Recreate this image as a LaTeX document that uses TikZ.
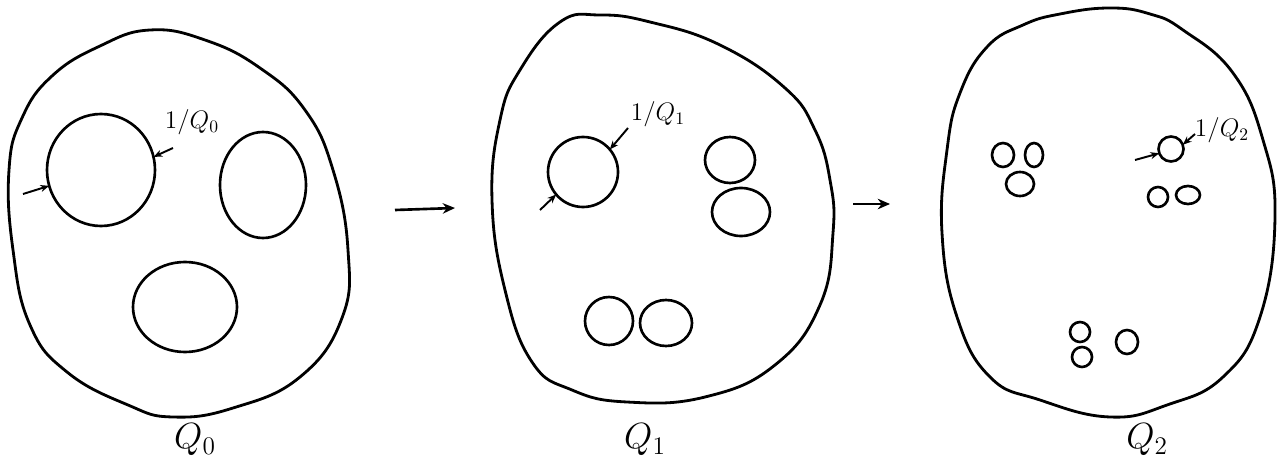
\documentclass[tikz,border=0pt]{standalone}
\usepackage{tikz}
\usetikzlibrary{arrows.meta,shapes.geometric,calc}
\tikzset{
  blob/.style={draw, line width=1.6pt, line join=round},
  hole/.style={draw, line width=1.5pt, ellipse, inner sep=0pt, outer sep=0pt},
  dimarrow/.style={-{Stealth[length=5pt,width=4pt]}, line width=1.1pt},
  steparrow/.style={-{Stealth[length=7pt,width=6pt]}, line width=1.5pt},
  qlabel/.style={font=\huge},
  invlabel/.style={font=\Large},
}
\newcommand{\hole}[5]{%
  \node[hole, minimum width=#4*0.02cm, minimum height=#5*0.02cm] (#1) at (#2,#3) {};
}

\begin{document}
\begin{tikzpicture}[x=0.02cm, y=-0.02cm]
    \useasboundingbox (0,0) rectangle (1277,459);
    % stage 0
    \draw[blob] plot[smooth cycle, tension=0.75] coordinates {
      (150,30) (205,40) (260,68) (305,110) (333,170) (348,250) (342,318)
      (300,377) (233,408) (173,417) (128,405) (67,372) (30,325) (13,250)
      (9,170) (22,118) (52,76) (100,46)};
    \hole{holeA}{101}{170}{108}{112}
    \hole{holeB}{263}{185}{86}{106}
    \hole{holeC}{185}{307}{104}{90}
    \coordinate (inA) at (23,194);
    \coordinate (outA) at (173,148);
    \draw[dimarrow] (inA) -- (holeA.197);
    \draw[dimarrow] (outA) -- (holeA.14);
    \node[invlabel] (invA) at (192,122) {$1/Q_0$};
    \node[qlabel] (Qzero) at (195,440) {$Q_0$};
    % step arrows
    \coordinate (stepAs) at (395,210);
    \coordinate (stepAe) at (455,208);
    \draw[steparrow] (stepAs) -- (stepAe);
    % stage 1
    \draw[blob] plot[smooth cycle, tension=0.75] coordinates {
      (560,22) (600,15) (650,22) (720,45) (785,88) (815,130) (830,180)
      (833,233) (820,305) (775,365) (705,397) (627,402) (572,390) (532,362)
      (505,290) (492,200) (500,120) (520,70)};
    \hole{holeD}{583}{172}{70}{70}
    \hole{holeE}{730}{160}{50}{46}
    \hole{holeF}{741}{212}{58}{48}
    \hole{holeG}{609}{321}{48}{48}
    \hole{holeH}{666}{323}{52}{46}
    \coordinate (inD) at (540,210);
    \coordinate (outD) at (628,128);
    \draw[dimarrow] (inD) -- (holeD.220);
    \draw[dimarrow] (outD) -- (holeD.40);
    \node[invlabel] (invD) at (658,114) {$1/Q_1$};
    \node[qlabel] (Qone) at (645,440) {$Q_1$};
    \coordinate (stepBs) at (853,204);
    \coordinate (stepBe) at (890,204);
    \draw[steparrow] (stepBs) -- (stepBe);
    % stage 2
    \draw[blob] plot[smooth cycle, tension=0.75] coordinates {
      (1060,14) (1110,8) (1150,14) (1183,30) (1233,73) (1263,140) (1275,217)
      (1260,317) (1223,377) (1167,405) (1110,417) (1040,400) (990,377)
      (957,317) (942,233) (947,150) (960,93) (987,47) (1023,25)};
    \hole{holeI}{1003}{155}{22}{24}
    \hole{holeJ}{1034}{155}{18}{24}
    \hole{holeK}{1020}{184}{28}{24}
    \hole{holeL}{1171}{149}{25}{25}
    \hole{holeM}{1158}{197}{20}{20}
    \hole{holeN}{1188}{195}{24}{18}
    \hole{holeO}{1080}{332}{20}{20}
    \hole{holeP}{1082}{357}{20}{20}
    \hole{holeQ}{1127}{342}{22}{24}
    \coordinate (inL) at (1135,160);
    \coordinate (outL) at (1195,134);
    \draw[dimarrow] (inL) -- (holeL.200);
    \draw[dimarrow] (outL) -- (holeL.20);
    \node[invlabel] (invL) at (1222,130) {$1/Q_2$};
    \node[qlabel] (Qtwo) at (1147,440) {$Q_2$};
\end{tikzpicture}
\end{document}
